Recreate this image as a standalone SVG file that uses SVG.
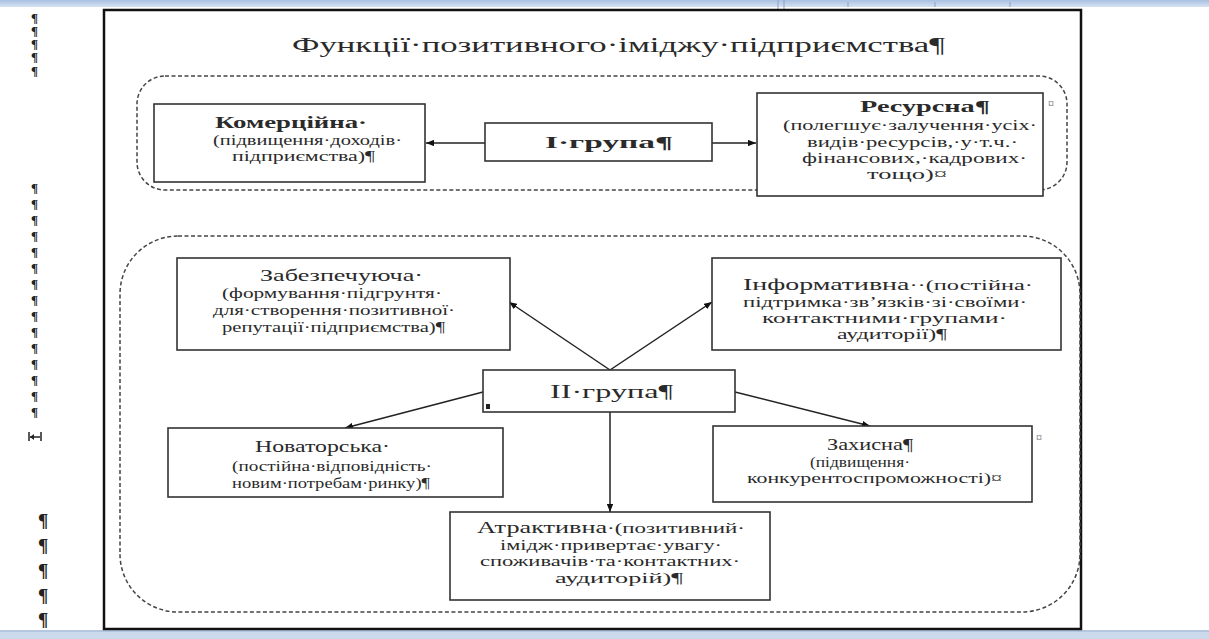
<svg xmlns="http://www.w3.org/2000/svg" width="1209" height="639" viewBox="0 0 1209 639">
<style>
text{font-family:"Liberation Serif","Times New Roman",serif;fill:#2a2a2a}
.t{font-size:20px}
.b{font-size:17px;font-weight:bold}
.h{font-size:16px}
.s{font-size:14px}
.g{font-size:18px}
.box{fill:#fff;stroke:#333;stroke-width:1.6}
.dash{fill:none;stroke:#444;stroke-width:1.5;stroke-dasharray:4 2.5}
.con{stroke:#222;stroke-width:1.5;fill:none}
.pm{font-size:13px;font-weight:bold;fill:#222}
.pb{font-size:19px;font-weight:bold;fill:#222}
.mk{font-size:12px;fill:#666}
</style>
<defs>
<marker id="ah" viewBox="0 0 10 8" refX="10" refY="4" markerWidth="8" markerHeight="6.4" orient="auto" markerUnits="userSpaceOnUse">
<path d="M0,0 L10,4 L0,8 Z" fill="#111"/>
</marker>
<linearGradient id="bar" x1="0" y1="0" x2="0" y2="1">
<stop offset="0" stop-color="#a9c0e2"/>
<stop offset="1" stop-color="#d6e2f2"/>
</linearGradient>
</defs>
<rect x="0" y="0" width="1209" height="639" fill="#fff"/>
<rect x="0" y="0" width="1209" height="7" fill="url(#bar)"/>
<g stroke="#8aa3c8" stroke-width="1"><line x1="778" y1="0" x2="778" y2="9"/><line x1="784" y1="0" x2="784" y2="9"/><line x1="848" y1="2" x2="848" y2="7"/><line x1="935" y1="2" x2="935" y2="7"/><line x1="1010" y1="2" x2="1010" y2="7"/></g>

<g id="margin">
<text class="pm" x="31" y="22">¶</text><text class="pm" x="31" y="35">¶</text><text class="pm" x="31" y="48">¶</text><text class="pm" x="31" y="61">¶</text><text class="pm" x="31" y="75">¶</text>
<text class="pm" x="31" y="192">¶</text><text class="pm" x="31" y="208">¶</text><text class="pm" x="31" y="224">¶</text><text class="pm" x="31" y="240">¶</text><text class="pm" x="31" y="256">¶</text><text class="pm" x="31" y="272">¶</text><text class="pm" x="31" y="288">¶</text><text class="pm" x="31" y="304">¶</text><text class="pm" x="31" y="320">¶</text><text class="pm" x="31" y="336">¶</text><text class="pm" x="31" y="352">¶</text><text class="pm" x="31" y="368">¶</text><text class="pm" x="31" y="384">¶</text><text class="pm" x="31" y="400">¶</text><text class="pm" x="31" y="416">¶</text>
<g stroke="#222" stroke-width="1.5"><line x1="29" y1="432" x2="29" y2="441"/><line x1="41" y1="432" x2="41" y2="441"/><line x1="30" y1="437" x2="40" y2="437"/></g>
<path d="M30,437 L34,434 L34,440 Z" fill="#222"/>
<text class="pb" x="38" y="527">¶</text><text class="pb" x="38" y="552">¶</text><text class="pb" x="38" y="577">¶</text><text class="pb" x="38" y="602">¶</text><text class="pb" x="38" y="626">¶</text>
</g>

<rect x="0" y="630" width="1209" height="9" fill="#cbd9ec"/>
<line x1="0" y1="631" x2="1209" y2="631" stroke="#9fb4d4" stroke-width="1"/>

<rect id="page" x="104" y="10" width="977" height="619" fill="none" stroke="#111" stroke-width="2.5"/>

<text id="title" class="t" x="292" y="52" textLength="653" lengthAdjust="spacingAndGlyphs">Функції·позитивного·іміджу·підприємства¶</text>

<rect id="group1" class="dash" x="137" y="76" width="930" height="114" rx="28"/>
<rect id="group2" class="dash" x="120" y="236" width="960" height="376" rx="58"/>

<g id="connectors">
<line class="con" x1="485" y1="143" x2="426" y2="143" marker-end="url(#ah)"/>
<line class="con" x1="712" y1="143" x2="756" y2="143" marker-end="url(#ah)"/>
<line class="con" x1="610" y1="370" x2="509" y2="302" marker-end="url(#ah)"/>
<line class="con" x1="610" y1="370" x2="712" y2="302" marker-end="url(#ah)"/>
<line class="con" x1="483" y1="392" x2="345" y2="428" marker-end="url(#ah)"/>
<line class="con" x1="735" y1="392" x2="870" y2="426" marker-end="url(#ah)"/>
<line class="con" x1="610" y1="412" x2="610" y2="512" marker-end="url(#ah)"/>
</g>

<g id="komertsiyna">
<rect class="box" x="154" y="104" width="271" height="78"/>
<text class="b" x="215" y="128" textLength="152" lengthAdjust="spacingAndGlyphs">Комерційна·</text>
<text class="s" x="213" y="145" textLength="189" lengthAdjust="spacingAndGlyphs">(підвищення·доходів·</text>
<text class="s" x="232" y="161" textLength="143" lengthAdjust="spacingAndGlyphs">підприємства)¶</text>
</g>

<g id="grupa1">
<rect class="box" x="485" y="123" width="227" height="38"/>
<text class="b" x="545" y="148" textLength="128" lengthAdjust="spacingAndGlyphs">I·група¶</text>
</g>

<g id="resursna">
<rect class="box" x="757" y="93" width="286" height="103"/>
<text class="b" x="860" y="112" textLength="130" lengthAdjust="spacingAndGlyphs">Ресурсна¶</text>
<text class="s" x="783" y="130" textLength="254" lengthAdjust="spacingAndGlyphs">(полегшує·залучення·усіх·</text>
<text class="s" x="807" y="147" textLength="211" lengthAdjust="spacingAndGlyphs">видів·ресурсів,·у·т.ч.·</text>
<text class="s" x="802" y="163" textLength="225" lengthAdjust="spacingAndGlyphs">фінансових,·кадрових·</text>
<text class="s" x="867" y="179" textLength="80" lengthAdjust="spacingAndGlyphs">тощо)¤</text>
<text class="mk" x="1048" y="108">¤</text>
</g>

<g id="zabezpechuyucha">
<rect class="box" x="177" y="258" width="333" height="92"/>
<text class="h" x="260" y="281" textLength="163" lengthAdjust="spacingAndGlyphs">Забезпечуюча·</text>
<text class="s" x="222" y="298" textLength="220" lengthAdjust="spacingAndGlyphs">(формування·підгрунтя·</text>
<text class="s" x="213" y="315" textLength="242" lengthAdjust="spacingAndGlyphs">для·створення·позитивної·</text>
<text class="s" x="222" y="332" textLength="223" lengthAdjust="spacingAndGlyphs">репутації·підприємства)¶</text>
</g>

<g id="informatyvna">
<rect class="box" x="712" y="258" width="349" height="92"/>
<text x="743" y="290" textLength="290" lengthAdjust="spacingAndGlyphs"><tspan class="h">Інформативна</tspan><tspan class="s">··(постійна·</tspan></text>
<text class="s" x="743" y="307" textLength="284" lengthAdjust="spacingAndGlyphs">підтримка·зв’язків·зі·своїми·</text>
<text class="s" x="762" y="323" textLength="245" lengthAdjust="spacingAndGlyphs">контактними·групами·</text>
<text class="s" x="837" y="339" textLength="110" lengthAdjust="spacingAndGlyphs">аудиторії)¶</text>
</g>

<g id="grupa2">
<rect class="box" x="483" y="370" width="252" height="42"/>
<text class="g" x="550" y="398" textLength="123" lengthAdjust="spacingAndGlyphs">II·група¶</text>
<rect x="486" y="404" width="4" height="5" fill="#222"/>
</g>

<g id="novatorska">
<rect class="box" x="168" y="428" width="335" height="69"/>
<text class="h" x="255" y="452" textLength="135" lengthAdjust="spacingAndGlyphs">Новаторська·</text>
<text class="s" x="232" y="471" textLength="200" lengthAdjust="spacingAndGlyphs">(постійна·відповідність·</text>
<text class="s" x="232" y="488" textLength="198" lengthAdjust="spacingAndGlyphs">новим·потребам·ринку)¶</text>
</g>

<g id="zakhysna">
<rect class="box" x="713" y="426" width="319" height="76"/>
<text class="h" x="827" y="450" textLength="86" lengthAdjust="spacingAndGlyphs">Захисна¶</text>
<text class="s" x="810" y="467" textLength="100" lengthAdjust="spacingAndGlyphs">(підвищення·</text>
<text class="s" x="747" y="483" textLength="255" lengthAdjust="spacingAndGlyphs">конкурентоспроможності)¤</text>
<text class="mk" x="1036" y="442">¤</text>
</g>

<g id="atraktyvna">
<rect class="box" x="450" y="512" width="320" height="88"/>
<text x="477" y="533" textLength="268" lengthAdjust="spacingAndGlyphs"><tspan class="h">Атрактивна</tspan><tspan class="s">·(позитивний·</tspan></text>
<text class="s" x="500" y="550" textLength="222" lengthAdjust="spacingAndGlyphs">імідж·привертає·увагу·</text>
<text class="s" x="480" y="566" textLength="260" lengthAdjust="spacingAndGlyphs">споживачів·та·контактних·</text>
<text class="s" x="555" y="583" textLength="128" lengthAdjust="spacingAndGlyphs">аудиторій)¶</text>
</g>
</svg>
